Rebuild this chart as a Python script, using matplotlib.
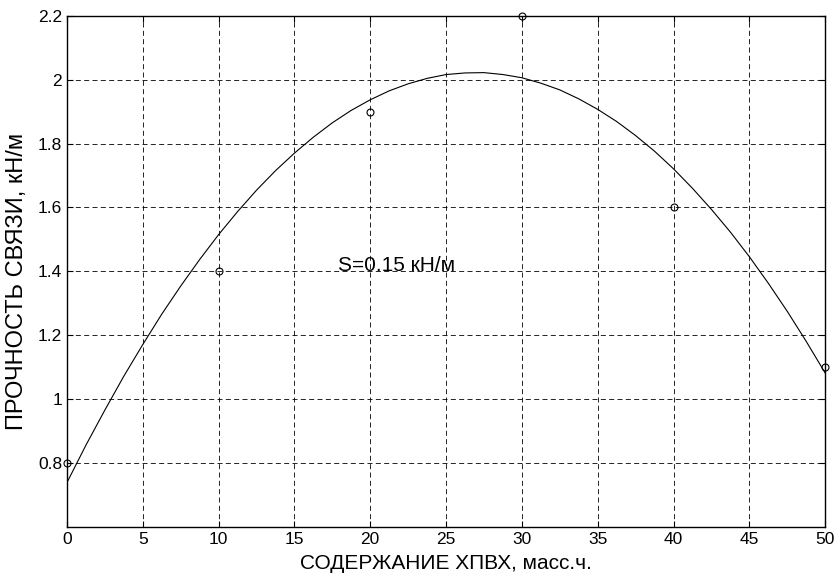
import matplotlib.pyplot as plt

plt.rcParams['font.family'] = ['Liberation Sans', 'DejaVu Sans']

# measured points
x_pts = [0, 10, 20, 30, 40, 50]
y_pts = [0.8, 1.4, 1.9, 2.2, 1.6, 1.1]

# fitted curve every 1.25 units
x_fit = [0, 1.25, 2.5, 3.75, 5, 6.25, 7.5, 8.75, 10, 11.25, 12.5, 13.75, 15, 16.25,
         17.5, 18.75, 20, 21.25, 22.5, 23.75, 25, 26.25, 27.5, 28.75, 30, 31.25,
         32.5, 33.75, 35, 36.25, 37.5, 38.75, 40, 41.25, 42.5, 43.75, 45, 46.25,
         47.5, 48.75, 50]
y_fit = [0.739, 0.856, 0.966, 1.072, 1.171, 1.266, 1.354, 1.437, 1.515, 1.587,
         1.654, 1.715, 1.770, 1.820, 1.865, 1.904, 1.937, 1.965, 1.987, 2.004,
         2.016, 2.021, 2.022, 2.016, 2.006, 1.989, 1.968, 1.940, 1.907, 1.869,
         1.825, 1.776, 1.721, 1.660, 1.594, 1.523, 1.446, 1.363, 1.275, 1.181, 1.082]

x_ticks = [0, 5, 10, 15, 20, 25, 30, 35, 40, 45, 50]
y_ticks = [0.8, 1.0, 1.2, 1.4, 1.6, 1.8, 2.0, 2.2]
y_ticklabels = ['0.8', '1', '1.2', '1.4', '1.6', '1.8', '2', '2.2']

fig = plt.figure(figsize=(8.35, 5.77), dpi=100)
ax = fig.add_axes([0.0802, 0.0867, 0.908, 0.886])

ax.plot(x_fit, y_fit, color='black', lw=0.8)
ax.plot(x_pts, y_pts, 'o', mfc='none', mec='black', ms=5, mew=0.8, clip_on=False)

ax.set_xlim(0, 50)
ax.set_ylim(0.6, 2.2)
ax.set_xticks(x_ticks)
ax.set_yticks(y_ticks)
ax.set_yticklabels(y_ticklabels)
ax.tick_params(direction='in', top=True, right=True, labelsize=12.5, length=4, width=0.8, pad=3.5)
ax.grid(True, color='black', linestyle=(0, (6, 4)), lw=0.6)
for s in ax.spines.values():
    s.set_linewidth(1.0)

ax.text(17.9, 1.4, 'S=0.15 кН/м', fontsize=15, va='baseline', ha='left')

ax.set_xlabel('СОДЕРЖАНИЕ ХПВХ, масс.ч.', fontsize=15, labelpad=5)
ax.set_ylabel('ПРОЧНОСТЬ СВЯЗИ, кН/м', fontsize=17)
ax.yaxis.set_label_coords(-0.052, 0.48)

plt.savefig('out.png', dpi=100)
